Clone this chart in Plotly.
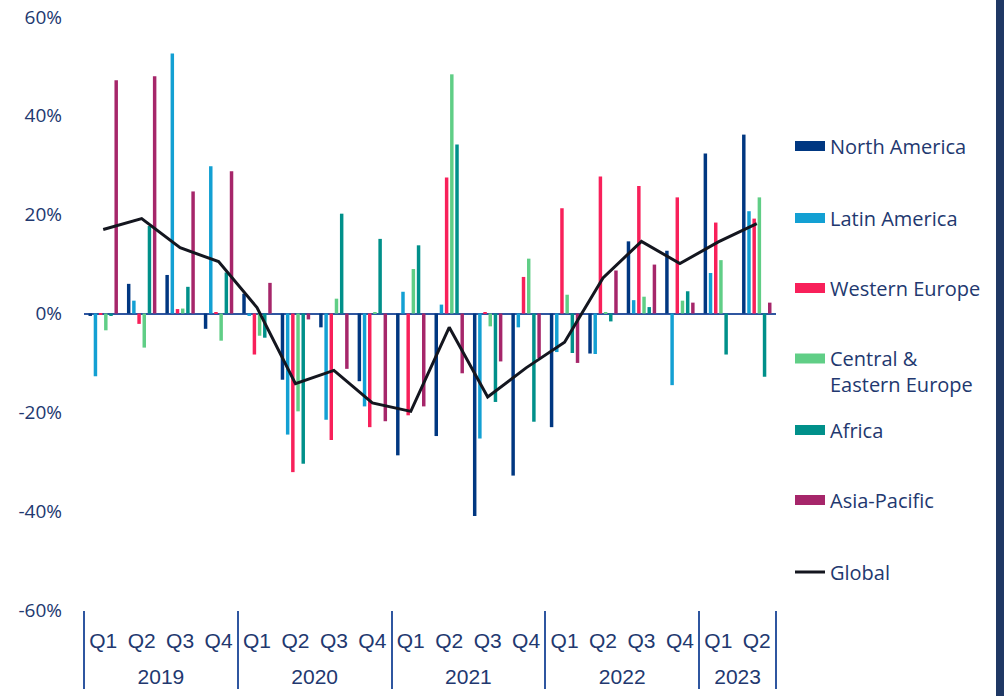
import plotly.graph_objects as go

years = ["2019"] * 4 + ["2020"] * 4 + ["2021"] * 4 + ["2022"] * 4 + ["2023"] * 2
quarters = ["Q1", "Q2", "Q3", "Q4"] * 4 + ["Q1", "Q2"]

north_america = [-0.5, 6.0, 7.8, -3.1, 4.0, -13.4, -2.8, -13.7, -28.7, -24.8, -41.0, -32.8, -23.0, -8.1, 14.6, 12.7, 32.4, 36.2]
latin_america = [-12.7, 2.6, 52.6, 29.8, -0.5, -24.5, -21.5, -18.8, 4.4, 1.8, -25.3, -2.8, -7.8, -8.2, 2.7, -14.5, 8.2, 20.7]
western_europe = [-0.3, -2.1, 0.9, 0.3, -8.3, -32.1, -25.6, -23.0, -20.6, 27.5, 0.2, 7.4, 21.3, 27.7, 25.8, 23.5, 18.4, 19.2]
central_eastern_europe = [-3.4, -6.9, 1.0, -5.5, -4.5, -19.8, 3.0, 0.3, 9.0, 48.4, -2.6, 11.1, 3.8, 0.2, 3.4, 2.6, 10.8, 23.5]
africa = [-0.5, 17.7, 5.4, 8.3, -4.9, -30.4, 20.2, 15.1, 13.8, 34.2, -17.9, -21.9, -8.0, -1.6, 1.3, 4.5, -8.3, -12.8]
asia_pacific = [47.2, 48.0, 24.7, 28.8, 6.2, -1.2, -11.2, -21.8, -18.8, -12.1, -9.7, -9.0, -10.0, 8.7, 9.9, 2.2, 0.0, 2.2]
global_total = [17.0, 19.2, 13.3, 10.5, 1.2, -14.2, -11.5, -18.1, -19.8, -2.8, -16.9, -11.0, -5.8, 7.2, 14.6, 10.1, 14.5, 18.2]

y_tick_values = [-60, -40, -20, 0, 20, 40, 60]
y_tick_labels = ["-60%", "-40%", "-20%", "0%", "20%", "40%", "60%"]

series = [
    ("North America", north_america, "#003781"),
    ("Latin America", latin_america, "#13A0D3"),
    ("Western Europe", western_europe, "#F8205A"),
    ("Central &<br>Eastern Europe", central_eastern_europe, "#60CE86"),
    ("Africa", africa, "#00908A"),
    ("Asia-Pacific", asia_pacific, "#A6266A"),
]

W, H = 1004, 696
L, R, T, B = 84, 776, 17, 610  # plot area in pixels
PW, PH = R - L, B - T

def px_x(x):
    return (x - L) / PW

def px_y(y):
    return (B - y) / PH

legend_centers = [146, 218, 288, 371.5, 430, 500, 572]
text_color = "#22386f"
legend_font = dict(family="Open Sans", size=20, color=text_color)

# year row displayed one line lower than the quarter row
year_labels = ["<br>" + y for y in years]

fig = go.Figure()
x = [year_labels, quarters]
for i, (name, vals, color) in enumerate(series):
    lg = "legend" if i == 0 else f"legend{i + 1}"
    fig.add_trace(go.Bar(x=x, y=vals, name=name, marker_color=color,
                         marker_line_width=0, showlegend=False, legendgroup=name))
    fig.add_trace(go.Scatter(x=[None], y=[None], mode="lines", name=name,
                             line=dict(color=color, width=13), legend=lg,
                             legendgroup=name, hoverinfo="skip"))

fig.add_trace(go.Scatter(x=x, y=global_total, name="Global", mode="lines",
                         line=dict(color="#14161f", width=3), legend="legend7"))

layout_legends = {}
for i, yc in enumerate(legend_centers):
    key = "legend" if i == 0 else f"legend{i + 1}"
    layout_legends[key] = dict(
        x=px_x(790), xanchor="left", y=px_y(yc), yanchor="middle",
        font=legend_font, bgcolor="rgba(0,0,0,0)", borderwidth=0,
        valign="top", itemwidth=30,
    )

fig.update_layout(
    width=W, height=H,
    margin=dict(l=L, r=W - R, t=T, b=H - B, autoexpand=False),
    paper_bgcolor="white", plot_bgcolor="white",
    barmode="group", bargap=0.19, bargroupgap=0.33,
    showlegend=True,
    **layout_legends,
    xaxis=dict(
        type="multicategory", automargin=False,
        showgrid=False, showline=False, ticks="",
        ticklabelstandoff=16,
        tickfont=dict(family="Liberation Sans", size=21, color=text_color),
        showdividers=True, dividercolor="#2f56a0", dividerwidth=2,
        range=[-0.5, 17.5],
    ),
    yaxis=dict(
        range=[-60, 60], tickmode="array", tickvals=y_tick_values,
        ticktext=y_tick_labels, automargin=False,
        ticklabeloverflow="allow",
        showgrid=False, showline=False, ticks="",
        zeroline=True, zerolinecolor="#2f56a0", zerolinewidth=2,
        tickfont=dict(family="Open Sans", size=19, color=text_color),
        ticklabelstandoff=21,
    ),
    shapes=[dict(type="rect", xref="paper", yref="paper",
                 x0=px_x(996), x1=px_x(W + 10), y0=px_y(H + 10), y1=px_y(-10),
                 fillcolor="#1f3864", line_width=0, layer="above")],
)

fig.write_html(
    "out.html",
    config={"displayModeBar": False},
    post_script="document.body.style.margin='0';document.body.style.overflow='hidden';",
)
